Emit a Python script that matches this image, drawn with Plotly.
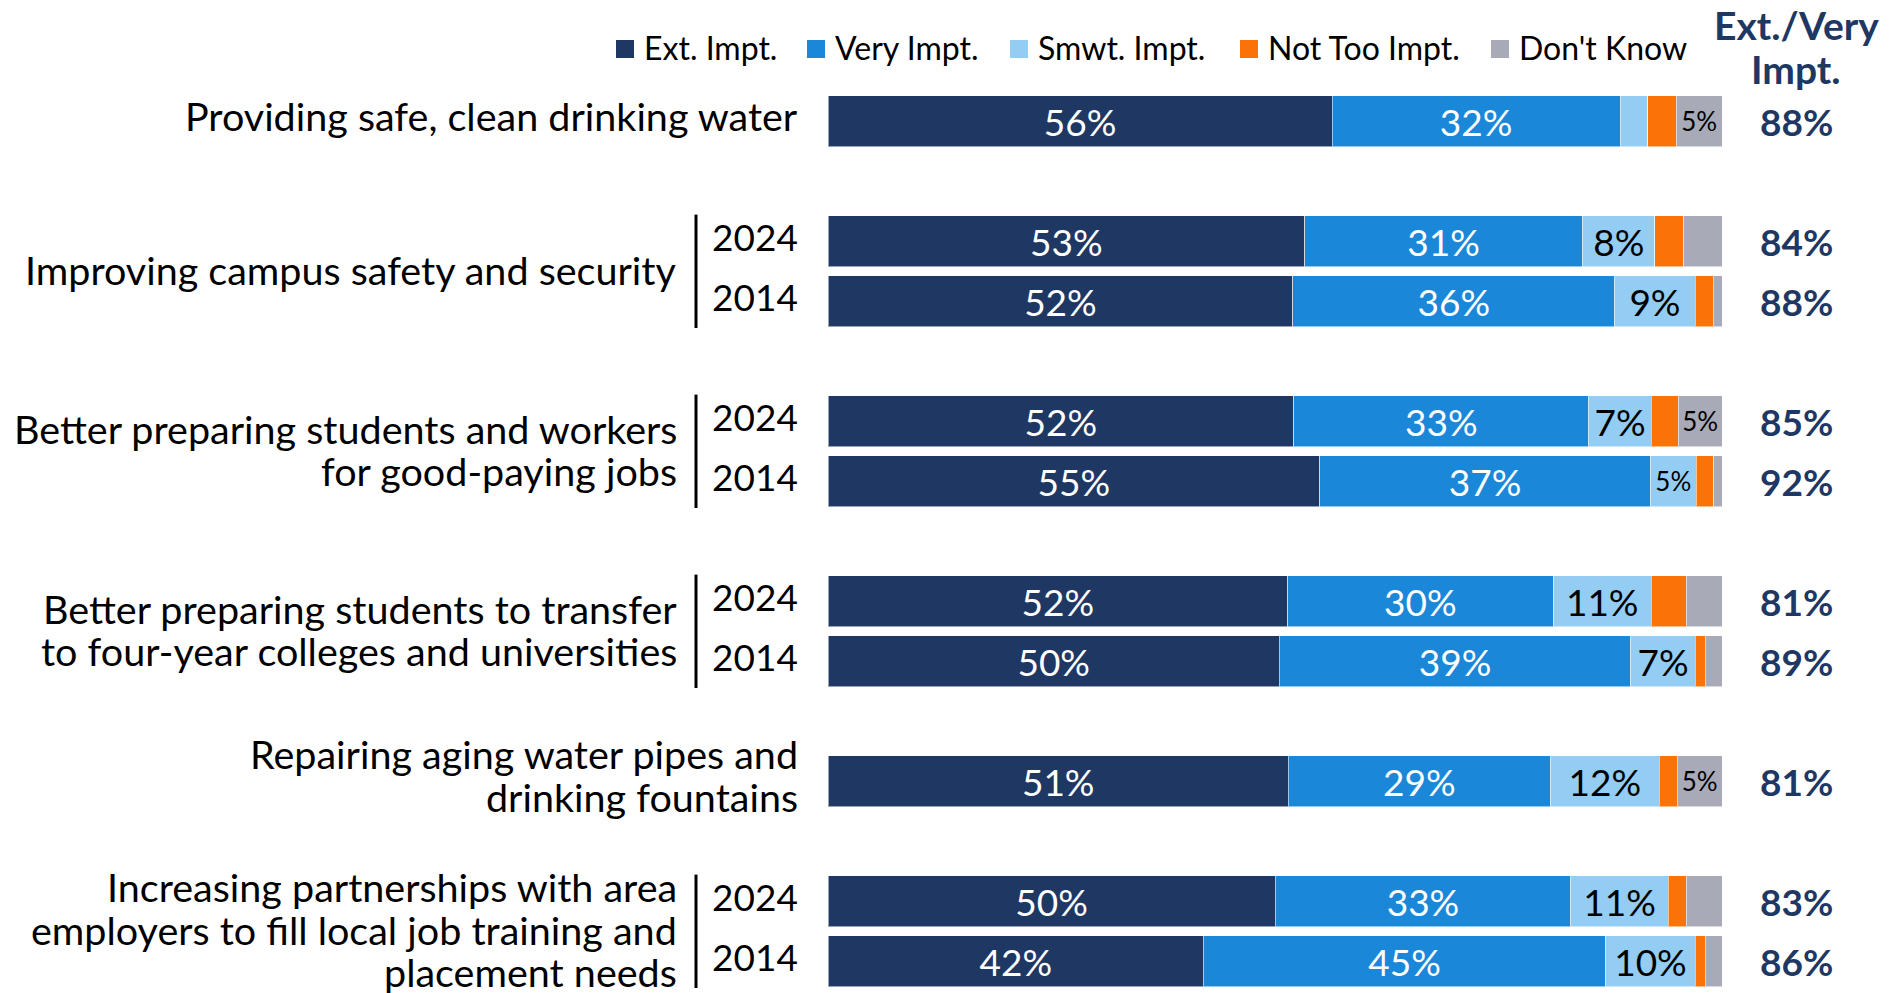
import plotly.graph_objects as go

# ---------------- data ----------------
series_names = ["Ext. Impt.", "Very Impt.", "Smwt. Impt.", "Not Too Impt.", "Don't Know"]

group_labels = [
    ["Providing safe, clean drinking water"],
    ["Improving campus safety and security"],
    ["Better preparing students and workers", "for good-paying jobs"],
    ["Better preparing students to transfer", "to four-year colleges and universities"],
    ["Repairing aging water pipes and", "drinking fountains"],
    ["Increasing partnerships with area", "employers to fill local job training and", "placement needs"],
]
group_years = [[""], ["2024", "2014"], ["2024", "2014"], ["2024", "2014"], [""], ["2024", "2014"]]

ext_impt = [56.4, 53.3, 52.0, 52.1, 55.0, 51.4, 50.5, 51.5, 50.0, 42.0]
very_impt = [32.2, 31.1, 36.0, 33.0, 37.0, 29.7, 39.3, 29.3, 33.1, 45.0]
smwt_impt = [3.1, 8.1, 9.0, 7.0, 5.1, 11.0, 7.2, 12.2, 10.9, 10.0]
not_too_impt = [3.2, 3.2, 2.0, 3.0, 2.0, 3.9, 1.1, 2.0, 2.0, 1.1]
dont_know = [5.1, 4.3, 1.0, 4.9, 0.9, 4.0, 1.9, 5.0, 4.0, 1.9]

ext_labels = ["56%", "53%", "52%", "52%", "55%", "52%", "50%", "51%", "50%", "42%"]
very_labels = ["32%", "31%", "36%", "33%", "37%", "30%", "39%", "29%", "33%", "45%"]
smwt_labels = ["", "8%", "9%", "7%", "5%", "11%", "7%", "12%", "11%", "10%"]
not_too_labels = ["", "", "", "", "", "", "", "", "", ""]
dk_labels = ["5%", "", "", "5%", "", "", "", "5%", "", ""]

ext_very_totals = ["88%", "84%", "88%", "85%", "92%", "81%", "89%", "81%", "83%", "86%"]
header_lines = ["Ext./Very", "Impt."]

# ---------------- style ----------------
FONT = "Lato, 'Open Sans', sans-serif"
NAVY = "#1F3763"
colors = ["#1F3763", "#1B87D8", "#93CDF3", "#F97306", "#A9AAB7"]
label_colors = ["white", "white", "black", "black", "black"]
BIG, SMALL = 37, 26
LABEL_SIZE = 39.5
YEAR_SIZE = 37
TOTAL_SIZE = 37
HEADER_SIZE = 39
LEGEND_SIZE = 32

W, H = 1895, 993
PLOT_L, PLOT_R = 828, 1722
UNIT = 60.0            # px per row unit
Y_TOP = -2.0
Y_BOT = 14.5


def px2paper(px):
    return (px - PLOT_L) / (PLOT_R - PLOT_L)


def py2y(py):
    # pixel from top -> y data value (row units)
    return Y_TOP + (py - 1) / UNIT


# row positions computed from group structure
row_pos, group_rows = [], []
pos = 0
for yrs in group_years:
    rows = []
    for _ in yrs:
        rows.append(pos)
        pos += 1
    group_rows.append(rows)
    row_pos.extend(rows)
    pos += 1

series = [ext_impt, very_impt, smwt_impt, not_too_impt, dont_know]
labels = [ext_labels, very_labels, smwt_labels, not_too_labels, dk_labels]

fig = go.Figure()
for name, vals, labs, col, lcol in zip(series_names, series, labels, colors, label_colors):
    sizes = [BIG if v > 6 else SMALL for v in vals]
    fig.add_trace(go.Bar(
        name=name, x=vals, y=row_pos, orientation="h", width=0.85,
        marker=dict(color=col, line=dict(color="rgba(255,255,255,0.55)", width=1)),
        text=labs, textposition="inside", insidetextanchor="middle", textangle=0,
        textfont=dict(family=FONT, size=sizes, color=lcol),
        hoverinfo="skip", showlegend=False,
    ))

annotations = []
shapes = []

# group labels, years, bracket lines
LINE_GAP = 0.705
for lines, yrs, rows in zip(group_labels, group_years, group_rows):
    paired = len(rows) > 1
    yc = sum(rows) / len(rows) - (0.03 if paired else 0.1)
    right_px = 679 if paired else 800
    n = len(lines)
    for i, ln in enumerate(lines):
        yy = yc + (i - (n - 1) / 2) * LINE_GAP
        annotations.append(dict(
            x=px2paper(right_px), xref="paper", y=yy, yref="y", text=ln,
            showarrow=False, xanchor="right", yanchor="middle",
            font=dict(family=FONT, size=LABEL_SIZE, color="black")))
    if paired:
        for yr, r in zip(yrs, rows):
            annotations.append(dict(
                x=px2paper(800), xref="paper", y=r - 0.08, yref="y", text=yr,
                showarrow=False, xanchor="right", yanchor="middle",
                font=dict(family=FONT, size=YEAR_SIZE, color="black")))
        shapes.append(dict(
            type="line", xref="paper", yref="y",
            x0=px2paper(696), x1=px2paper(696),
            y0=rows[0] - 0.44, y1=rows[-1] + 0.45,
            line=dict(color="black", width=3)))

# totals column
for r, t in zip(row_pos, ext_very_totals):
    annotations.append(dict(
        x=px2paper(1796), xref="paper", y=r, yref="y", text="<b>%s</b>" % t,
        showarrow=False, xanchor="center", yanchor="middle",
        font=dict(family=FONT, size=TOTAL_SIZE, color=NAVY)))

# header
for py, ln in zip([25, 69], header_lines):
    annotations.append(dict(
        x=px2paper(1796), xref="paper", y=py2y(py), yref="y", text="<b>%s</b>" % ln,
        showarrow=False, xanchor="center", yanchor="middle",
        font=dict(family=FONT, size=HEADER_SIZE, color=NAVY)))

# custom legend
legend_sq_px = [616, 807, 1010, 1240, 1491]
LEG_Y = 49
SQ = 18
for name, col, lx in zip(series_names, colors, legend_sq_px):
    shapes.append(dict(
        type="rect", xref="paper", yref="y",
        x0=px2paper(lx), x1=px2paper(lx + SQ),
        y0=py2y(LEG_Y - SQ / 2), y1=py2y(LEG_Y + SQ / 2),
        fillcolor=col, line=dict(width=0)))
    annotations.append(dict(
        x=px2paper(lx + 26), xref="paper", y=py2y(LEG_Y - 2), yref="y", text=name,
        showarrow=False, xanchor="left", yanchor="middle",
        font=dict(family=FONT, size=LEGEND_SIZE, color="black")))

fig.update_layout(
    width=W, height=H,
    barmode="stack",
    margin=dict(l=PLOT_L, r=W - PLOT_R, t=1, b=H - 1 - int(UNIT * (Y_BOT - Y_TOP))),
    plot_bgcolor="white", paper_bgcolor="white",
    xaxis=dict(range=[0, 100], visible=False, fixedrange=True),
    yaxis=dict(range=[Y_BOT, Y_TOP], visible=False, fixedrange=True),
    annotations=annotations, shapes=shapes,
    font=dict(family=FONT),
    showlegend=False,
)

fig.write_html(
    "out.html",
    config={"displayModeBar": False},
    post_script="document.body.style.margin='0px'; document.body.style.overflow='hidden';",
)
